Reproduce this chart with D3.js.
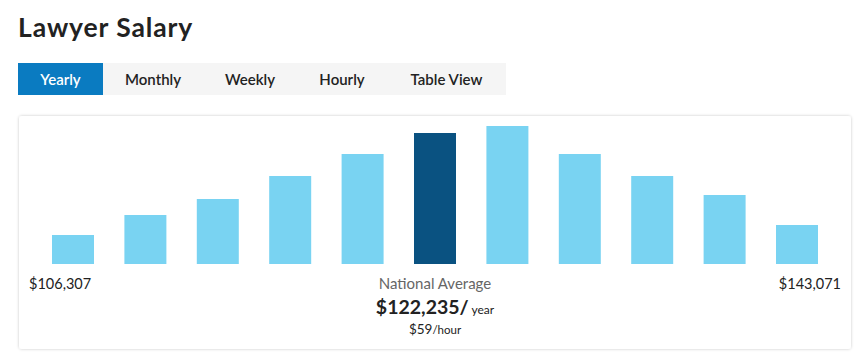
<!DOCTYPE html>
<html>
<head>
<meta charset="utf-8">
<script src="https://cdn.jsdelivr.net/npm/d3@7"></script>
<style>
  html, body { margin: 0; padding: 0; background: #fff; }
  svg { display: block; }
</style>
</head>
<body>
<svg id="chart" width="864" height="355"></svg>
<script>
// ---- data ----
const title = "Lawyer Salary";
const tabs = ["Yearly", "Monthly", "Weekly", "Hourly", "Table View"];
const activeTab = "Yearly";
const bins = ["b1","b2","b3","b4","b5","b6","b7","b8","b9","b10","b11"];
const binShare = [29, 49, 65, 88, 110, 131, 138, 110, 88, 69, 39];
const averageBin = "b6";
const minLabel = "$106,307";
const maxLabel = "$143,071";
const avgCaption = "National Average";
const avgYearly = "$122,235/";
const avgYearUnit = " year";
const avgHourly = "$59";
const avgHourUnit = "/hour";

// ---- drawing ----
const svg = d3.select("#chart");
const font = "'Source Sans Pro', 'Lato', 'Open Sans', sans-serif";

const defs = svg.append("defs");
const f = defs.append("filter").attr("id", "shadow").attr("x", "-5%").attr("y", "-10%").attr("width", "110%").attr("height", "120%");
f.append("feDropShadow").attr("dx", 0).attr("dy", 0).attr("stdDeviation", 1.6).attr("flood-color", "#000").attr("flood-opacity", 0.22);

// title
svg.append("text").attr("x", 18).attr("y", 37)
  .attr("font-family", font).attr("font-weight", 700).attr("font-size", 26.5)
  .attr("letter-spacing", 0.9)
  .attr("fill", "#222").text(title);

// tabs
const tabX = d3.scaleOrdinal().domain(tabs).range([18, 103, 203, 297, 387]);
const tabW = d3.scaleOrdinal().domain(tabs).range([85, 100, 94, 90, 119]);
svg.append("rect").attr("x", 18).attr("y", 63).attr("width", 488).attr("height", 32).attr("fill", "#f5f5f5");
const tg = svg.append("g");
tg.selectAll("rect").data(tabs.filter(t => t === activeTab)).join("rect")
  .attr("x", d => tabX(d)).attr("y", 63).attr("width", d => tabW(d)).attr("height", 32)
  .attr("fill", "#0a7bc1");
tg.selectAll("text").data(tabs).join("text")
  .attr("x", d => tabX(d) + tabW(d) / 2).attr("y", 85)
  .attr("text-anchor", "middle")
  .attr("font-family", font).attr("font-weight", 600).attr("font-size", 15)
  .attr("fill", d => d === activeTab ? "#fff" : "#222")
  .text(d => d);

// card
svg.append("rect").attr("x", 19).attr("y", 116).attr("width", 832).attr("height", 233)
  .attr("rx", 3).attr("fill", "#fff").attr("filter", "url(#shadow)");

// bars
const x = d3.scaleBand().domain(bins).range([52, 818]).paddingInner(0.42).paddingOuter(0);
const y = d3.scaleLinear().domain([0, d3.max(binShare)]).range([264, 126]);
svg.append("g").selectAll("rect").data(bins).join("rect")
  .attr("x", d => x(d)).attr("width", x.bandwidth())
  .attr("y", (d, i) => y(binShare[i])).attr("height", (d, i) => y(0) - y(binShare[i]))
  .attr("fill", d => d === averageBin ? "#0a5281" : "#79d3f2");

// end labels
svg.append("text").attr("x", 29).attr("y", 289)
  .attr("font-family", font).attr("font-size", 14.5).attr("fill", "#222").text(minLabel);
svg.append("text").attr("x", 841).attr("y", 289).attr("text-anchor", "end")
  .attr("font-family", font).attr("font-size", 14.5).attr("fill", "#222").text(maxLabel);

// average block
svg.append("text").attr("x", 435).attr("y", 289).attr("text-anchor", "middle")
  .attr("font-family", font).attr("font-size", 15).attr("fill", "#666").text(avgCaption);
const t2 = svg.append("text").attr("x", 435).attr("y", 314).attr("text-anchor", "middle")
  .attr("font-family", font).attr("fill", "#222");
t2.append("tspan").attr("font-size", 19.5).attr("font-weight", 700).text(avgYearly);
t2.append("tspan").attr("font-size", 12).text(avgYearUnit);
const t3 = svg.append("text").attr("x", 435).attr("y", 334).attr("text-anchor", "middle")
  .attr("font-family", font).attr("fill", "#222");
t3.append("tspan").attr("font-size", 13.5).text(avgHourly);
t3.append("tspan").attr("font-size", 11.5).text(avgHourUnit);
</script>
</body>
</html>
